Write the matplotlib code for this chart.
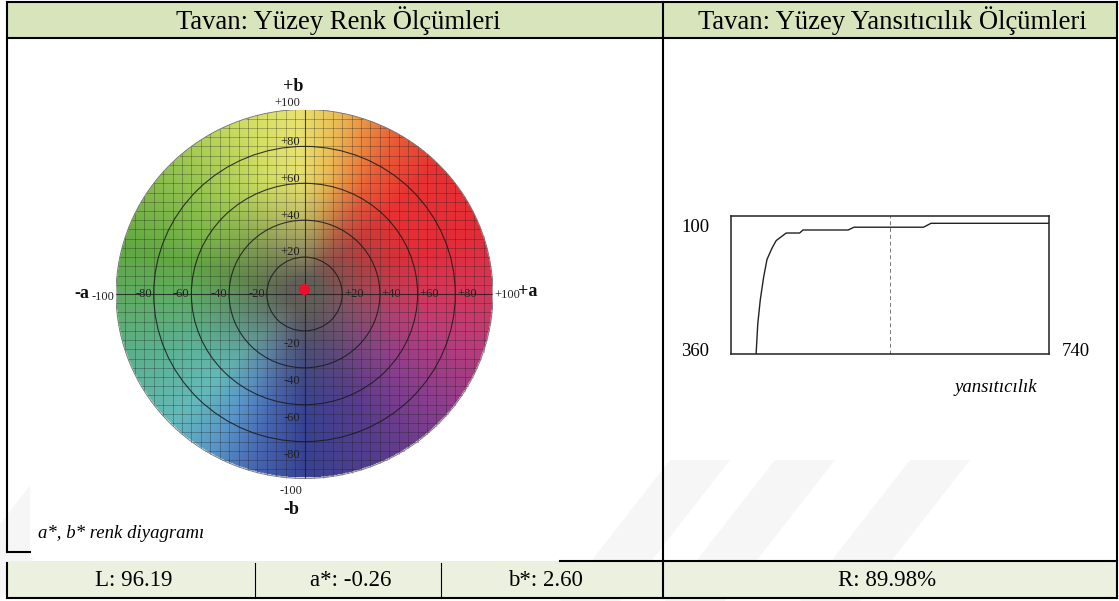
import numpy as np
import matplotlib
matplotlib.use('Agg')
import matplotlib.pyplot as plt
from matplotlib.patches import Rectangle, Polygon, Circle

W, H = 1119, 601
SERIF = ['Liberation Serif', 'DejaVu Serif']
plt.rcParams['font.family'] = SERIF

# ---------------- data ----------------
header_left = "Tavan: Yüzey Renk Ölçümleri"
header_right = "Tavan: Yüzey Yansıtıcılık Ölçümleri"
L_value = 96.19
a_value = -0.26
b_value = 2.60
R_value = 89.98
ring_radii = [20, 40, 60, 80]
ab_ticks = [-80, -60, -40, -20, 20, 40, 60, 80]
wavelength = [390, 392, 395, 399, 403, 409, 414, 426, 442, 446, 500, 507, 590, 599, 740]
reflectance = [0, 24, 43, 61, 75, 84, 90, 96, 96, 98.4, 98.4, 100.6, 100.6, 103.7, 103.7]
wl_min, wl_max = 360, 740
midline_wl = 550

# colour-wheel styling anchors (hue angle in degrees -> rim colour)
hue_angles = [0, 20, 45, 60, 70, 80, 92, 108, 135, 165, 200, 225, 240, 255, 270, 295, 320, 345, 360]
hue_rgb = [(212, 55, 90), (228, 44, 56), (232, 50, 50), (232, 92, 56), (234, 140, 66),
           (234, 190, 86), (232, 226, 112), (210, 222, 100), (150, 196, 80), (98, 168, 66),
           (92, 176, 140), (100, 186, 186), (90, 150, 200), (70, 100, 176), (56, 66, 146),
           (88, 60, 140), (140, 62, 142), (190, 60, 120), (212, 55, 90)]
center_rgb = (98, 94, 88)

fig = plt.figure(figsize=(W / 100, H / 100), dpi=100)
bg = fig.add_axes([0, 0, 1, 1])
bg.set_xlim(0, W)
bg.set_ylim(H, 0)
bg.axis('off')


def pax(x0, y0, x1, y1):
    return fig.add_axes([x0 / W, 1 - y1 / H, (x1 - x0) / W, (y1 - y0) / H])


# faint watermark stripes
for x in [-60, 560, 665, 800]:
    bg.add_patch(Polygon([(x, 601), (x + 60, 601), (x + 170, 460), (x + 110, 460)],
                         closed=True, facecolor='#f6f6f6', edgecolor='none', zorder=0))

# table fills
bg.add_patch(Rectangle((7, 2), 1110, 36, facecolor='#d7e4bc', edgecolor='none', zorder=1))
bg.add_patch(Rectangle((7, 561), 1110, 37, facecolor='#ebf1de', edgecolor='none', zorder=1))
# picture white area
bg.add_patch(Rectangle((30, 40), 530, 518, facecolor='white', edgecolor='none', zorder=1))

LW = 1.5
def seg(x0, y0, x1, y1, lw=LW, color='black'):
    bg.plot([x0, x1], [y0, y1], color=color, lw=lw, solid_capstyle='projecting', zorder=3)

seg(7, 2, 1117, 2)
seg(7, 38, 1117, 38)
seg(7, 2, 7, 552)
seg(7, 552, 30, 552)
seg(7, 563, 7, 598)
seg(1117, 2, 1117, 598)
seg(663, 2, 663, 598)
seg(560, 561, 1117, 561)
seg(7, 598, 1117, 598)
seg(255, 563, 255, 598, lw=0.8)
seg(441, 563, 441, 598, lw=0.8)

# header & footer text
bg.text(338, 21, header_left, ha='center', va='center', fontsize=19.2, zorder=4)
bg.text(892, 21, header_right, ha='center', va='center', fontsize=19.2, zorder=4)
fs_b = 16.5
bg.text(134, 580, f"L: {L_value:.2f}", ha='center', va='center', fontsize=fs_b, zorder=4)
bg.text(351, 580, f"a*: {a_value:.2f}", ha='center', va='center', fontsize=fs_b, zorder=4)
bg.text(545, 580, f"b*: {b_value:.2f}", ha='center', va='center', fontsize=fs_b, zorder=4)
bg.text(887, 580, f"R: {R_value:.2f}%", ha='center', va='center', fontsize=fs_b, zorder=4)

# ---------------- colour wheel ----------------
wx = pax(116, 109.5, 493, 478.5)
wx.set_xlim(-100, 100)
wx.set_ylim(-100, 100)
wx.axis('off')

N = 500
aa = np.linspace(-100, 100, N)
bb = np.linspace(100, -100, N)
A, B = np.meshgrid(aa, bb)
r = np.sqrt(A ** 2 + B ** 2) / 100.0
ang = np.degrees(np.arctan2(B, A)) % 360
hue = np.array(hue_rgb, dtype=float) / 255.0
rim = np.stack([np.interp(ang, hue_angles, hue[:, k]) for k in range(3)], axis=-1)
x = np.clip((r - 0.08) / 0.6, 0, 1)
t = (1 - (1 - x) ** 1.5)[..., None]
cen = np.array(center_rgb, dtype=float) / 255.0
rgb = cen * (1 - t) + rim * t
alpha = (r <= 1.0).astype(float)[..., None]
img = np.concatenate([rgb, alpha], axis=-1)
wx.imshow(img, extent=(-100, 100, -100, 100), origin='upper', aspect='auto',
          interpolation='bilinear', zorder=1)

# fine grid inside disc
for v in np.arange(-100, 101, 5):
    h = np.sqrt(max(100 ** 2 - v ** 2, 0))
    wx.plot([v, v], [-h, h], color='#1a1a1a', lw=0.5, alpha=0.42, zorder=2)
    wx.plot([-h, h], [v, v], color='#1a1a1a', lw=0.5, alpha=0.42, zorder=2)
wx.plot([0, 0], [-100, 100], color='#1a1a1a', lw=0.8, alpha=0.7, zorder=2)
wx.plot([-100, 100], [0, 0], color='#1a1a1a', lw=0.8, alpha=0.7, zorder=2)
for rr in ring_radii:
    wx.add_patch(Circle((0, 0), rr, fill=False, edgecolor='#1a1a1a', lw=0.8, alpha=0.85, zorder=3))
wx.add_patch(Circle((0, 0), 100, fill=False, edgecolor='#707070', lw=0.6, zorder=3))

fs_t = 9
for v in ab_ticks:
    lab = f"{v:+d}"
    if v < 0:
        wx.text(v - 1, 0, lab, ha='right', va='center', fontsize=fs_t, color='#222', zorder=4)
        wx.text(-2.5, v - 7, lab, ha='right', va='center', fontsize=fs_t, color='#222', zorder=4)
    else:
        wx.text(v + 1, 0, lab, ha='left', va='center', fontsize=fs_t, color='#222', zorder=4)
        wx.text(-2.5, v + 2.5, lab, ha='right', va='center', fontsize=fs_t, color='#222', zorder=4)

wx.text(-2.5, 103.5, "+100", ha='right', va='center', fontsize=fs_t, color='#222')
wx.text(-6, 112.5, "+b", ha='center', va='center', fontsize=13, fontweight='bold', color='#111')
wx.text(-7, -107, "-100", ha='center', va='center', fontsize=fs_t, color='#222')
wx.text(-7, -117, "-b", ha='center', va='center', fontsize=13, fontweight='bold', color='#111')
wx.text(-101, -1.5, "-100", ha='right', va='center', fontsize=fs_t, color='#222')
wx.text(-114, 0.5, "-a", ha='right', va='center', fontsize=13, fontweight='bold', color='#111')
wx.text(100.5, -0.5, "+100", ha='left', va='center', fontsize=fs_t, color='#222')
wx.text(113, 1.5, "+a", ha='left', va='center', fontsize=13, fontweight='bold', color='#111')

wx.plot([a_value], [b_value], 'o', color='#e8102a', markersize=7, zorder=5)

bg.text(38, 534, "a*, b* renk diyagramı", ha='left', va='center', fontsize=13.5,
        style='italic', zorder=4)

# ---------------- reflectance chart ----------------
rx = pax(731, 216, 1049, 354)
rx.set_xlim(wl_min, wl_max)
rx.set_ylim(0, 109.5)
rx.set_xticks([])
rx.set_yticks([])
for s in rx.spines.values():
    s.set_linewidth(1.1)
    s.set_color('#222')
rx.plot(wavelength, reflectance, color='#222', lw=1.0)
rx.axvline(midline_wl, color='#777', lw=0.7, ls=(0, (4, 3)))

bg.text(695, 227.5, "100", ha='center', va='center', fontsize=13.5, zorder=4)
bg.text(695, 351, str(wl_min), ha='center', va='center', fontsize=13.5, zorder=4)
bg.text(1076, 351, str(wl_max), ha='center', va='center', fontsize=13.5, zorder=4)
bg.text(996, 388, "yansıtıcılık", ha='center', va='center', fontsize=13.5,
        style='italic', zorder=4)

fig.savefig('out.png', dpi=100)
